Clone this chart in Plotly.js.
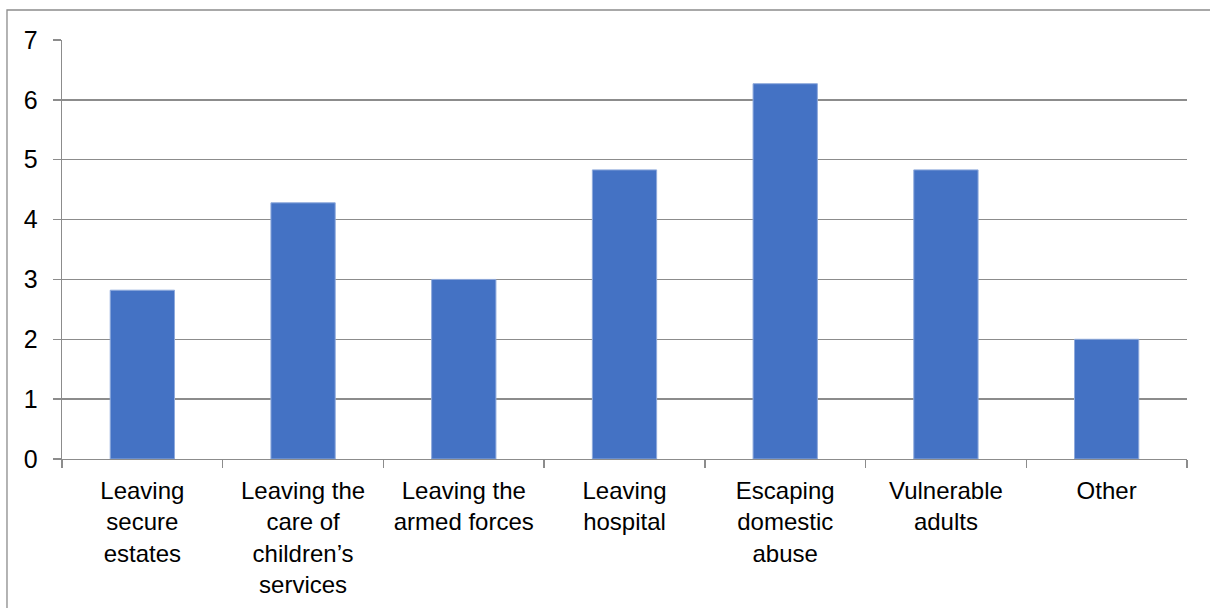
<!DOCTYPE html>
<html>
<head>
<meta charset="utf-8">
<script src="https://cdn.plot.ly/plotly-3.0.1.min.js"></script>
<style>html,body{margin:0;padding:0;background:#fff;}#chart{width:1210px;height:608px;}</style>
</head>
<body>
<div id="chart"></div>
<script>
const categories = [
  "Leaving<br>secure<br>estates",
  "Leaving the<br>care of<br>children’s<br>services",
  "Leaving the<br>armed forces",
  "Leaving<br>hospital",
  "Escaping<br>domestic<br>abuse",
  "Vulnerable<br>adults",
  "Other"
];
const values = [2.82, 4.28, 3.0, 4.83, 6.27, 4.83, 2.0];
const yTicks = [0, 1, 2, 3, 4, 5, 6, 7];

const trace = {
  type: 'bar',
  x: categories,
  y: values,
  marker: {color: '#4472C4', line: {color: '#8FAADC', width: 1}},
  hoverinfo: 'x+y'
};

const layout = {
  width: 1210, height: 608,
  margin: {l: 62, r: 23, t: 40, b: 149},
  paper_bgcolor: '#fff', plot_bgcolor: '#fff',
  font: {family: 'Liberation Sans, Arial, sans-serif', size: 24, color: '#000'},
  bargap: 0.6,
  showlegend: false,
  xaxis: {
    type: 'category',
    showline: true, linecolor: '#8c8c8c', linewidth: 1.3,
    ticks: 'outside', tickson: 'boundaries', ticklen: 8, tickcolor: '#8c8c8c', tickwidth: 1.3,
    showgrid: false, tickangle: 0, ticklabelstandoff: 10,
    tickfont: {size: 24, color: '#000'}
  },
  yaxis: {
    range: [0, 7], tickvals: yTicks, ticktext: yTicks.map(String),
    showgrid: true, gridcolor: '#8c8c8c', gridwidth: 1.3,
    showline: true, linecolor: '#8c8c8c', linewidth: 1.3,
    ticks: 'outside', ticklen: 8, tickcolor: '#8c8c8c', tickwidth: 1.3,
    zeroline: false, ticklabelstandoff: 10,
    tickfont: {size: 25, color: '#000'}
  },
  shapes: [{
    type: 'rect', xref: 'paper', yref: 'paper',
    x0: -0.0489, x1: 1.2, y0: -0.5, y1: 1.0716,
    line: {color: '#8c8c8c', width: 1.3}, fillcolor: 'rgba(0,0,0,0)', layer: 'below'
  }]
};

Plotly.newPlot('chart', [trace], layout, {displayModeBar: false, staticPlot: true});
</script>
</body>
</html>
